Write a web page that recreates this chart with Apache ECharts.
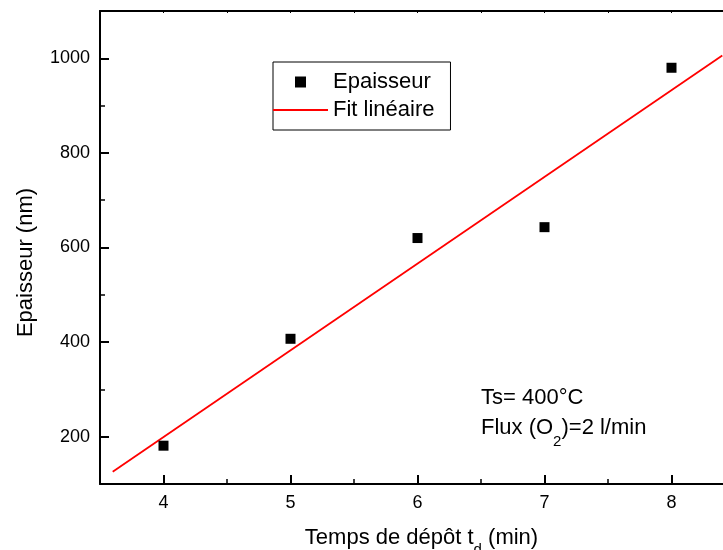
<!DOCTYPE html>
<html>
<head>
<meta charset="utf-8">
<script src="https://cdn.jsdelivr.net/npm/echarts@6/dist/echarts.min.js"></script>
<style>
  html, body { margin: 0; padding: 0; background: #fff; }
  #chart { width: 723px; height: 550px; }
</style>
</head>
<body>
<div id="chart"></div>
<script>
// Deposition time (min) and measured film thickness (nm)
const depositTimes = [4, 5, 6, 7, 8];
const thickness = [181, 407, 620, 643, 980];

// Linear fit, drawn between its two end points
const fitTimes = [3.6, 8.4];
const fitThickness = [126, 1006];

// Labelled ticks
const xMajorTicks = [4, 5, 6, 7, 8];
const yMajorTicks = [200, 400, 600, 800, 1000];

const FONT = 'Liberation Sans, Arial, sans-serif';
const BLACK = '#000';
const RED = '#ff0000';

const chart = echarts.init(document.getElementById('chart'), null, { renderer: 'canvas' });

const scatterData = depositTimes.map((t, i) => [t, thickness[i]]);
const fitData = fitTimes.map((t, i) => [t, fitThickness[i]]);

const xRange = { min: 3.5, max: 8.5, interval: 0.5 };
const yRange = { min: 100, max: 1100, interval: 100 };

const option = {
  backgroundColor: '#fff',
  animation: false,
  grid: { left: 100, top: 11, width: 635, height: 473, containLabel: false, outerBoundsMode: 'none' },
  xAxis: [
    {
      type: 'value', position: 'bottom', ...xRange,
      splitLine: { show: false },
      axisLine: { show: true, lineStyle: { color: BLACK, width: 2 } },
      axisTick: { show: true, inside: true, length: 9, customValues: xMajorTicks,
                  lineStyle: { color: BLACK, width: 2 } },
      axisLabel: { show: true, customValues: xMajorTicks, margin: 10,
                   formatter: v => String(v),
                   color: BLACK, fontFamily: FONT, fontSize: 18 },
      name: '{a|Temps de dépôt t}{s|d}{a| (min)}',
      nameLocation: 'middle',
      nameGap: 34,
      nameTextStyle: {
        padding: [0, 0, 0, 8],
        rich: {
          a: { fontFamily: FONT, fontSize: 22, color: BLACK },
          s: { fontFamily: FONT, fontSize: 15, color: BLACK, padding: [24, 0, 0, 0] }
        }
      }
    },
    {
      // half-unit ticks on the bottom axis
      type: 'value', position: 'bottom', ...xRange,
      splitLine: { show: false },
      axisLine: { show: false },
      axisTick: { show: true, inside: true, length: 5, lineStyle: { color: BLACK, width: 1.5 } },
      axisLabel: { show: false }
    },
    {
      // frame edge on top
      type: 'value', position: 'top', ...xRange,
      splitLine: { show: false },
      axisLine: { show: true, lineStyle: { color: BLACK, width: 2 } },
      axisTick: { show: true, inside: true, length: 2, lineStyle: { color: BLACK, width: 1 } },
      axisLabel: { show: false }
    }
  ],
  yAxis: [
    {
      type: 'value', position: 'left', ...yRange,
      splitLine: { show: false },
      axisLine: { show: true, lineStyle: { color: BLACK, width: 2 } },
      axisTick: { show: true, inside: true, length: 9, customValues: yMajorTicks,
                  lineStyle: { color: BLACK, width: 2 } },
      axisLabel: { show: true, customValues: yMajorTicks, margin: 10,
                   formatter: v => String(v),
                   color: BLACK, fontFamily: FONT, fontSize: 18 },
      name: 'Epaisseur (nm)',
      nameLocation: 'middle',
      nameRotate: 90,
      nameGap: 63,
      nameTextStyle: { fontFamily: FONT, fontSize: 22, color: BLACK, padding: [0, 30, 0, 0] }
    },
    {
      // intermediate ticks on the left axis
      type: 'value', position: 'left', ...yRange,
      splitLine: { show: false },
      axisLine: { show: false },
      axisTick: { show: true, inside: true, length: 5, lineStyle: { color: BLACK, width: 1.5 } },
      axisLabel: { show: false }
    }
  ],
  legend: {
    orient: 'vertical',
    left: 273,
    top: 62,
    padding: [9, 16, 9, 0],
    itemWidth: 55,
    itemHeight: 11,
    itemGap: 6,
    borderColor: BLACK,
    borderWidth: 1,
    backgroundColor: '#fff',
    textStyle: { fontFamily: FONT, fontSize: 22, color: BLACK },
    data: [
      { name: 'Epaisseur', icon: 'path://M0 0H10V10H0Z' },
      { name: 'Fit linéaire', icon: 'path://M0 0H55V2H0Z' }
    ]
  },
  graphic: [
    {
      type: 'text', left: 481, top: 387,
      style: { text: 'Ts= 400°C', font: '22px ' + FONT, fill: BLACK }
    },
    {
      type: 'text', left: 481, top: 417,
      style: {
        text: '{a|Flux (O}{s|2}{a|)=2 l/min}',
        fill: BLACK,
        rich: {
          a: { fontFamily: FONT, fontSize: 22, fill: BLACK },
          s: { fontFamily: FONT, fontSize: 15, fill: BLACK, padding: [27, 0, 0, 0] }
        }
      }
    }
  ],
  series: [
    {
      name: 'Epaisseur',
      type: 'scatter',
      xAxisIndex: 0, yAxisIndex: 0,
      symbol: 'rect',
      symbolSize: 10,
      itemStyle: { color: BLACK, opacity: 1 },
      data: scatterData,
      z: 3
    },
    {
      name: 'Fit linéaire',
      type: 'line',
      xAxisIndex: 0, yAxisIndex: 0,
      symbol: 'none',
      lineStyle: { color: RED, width: 1.8 },
      itemStyle: { color: RED },
      data: fitData,
      z: 2
    }
  ]
};

chart.setOption(option);
</script>
</body>
</html>
